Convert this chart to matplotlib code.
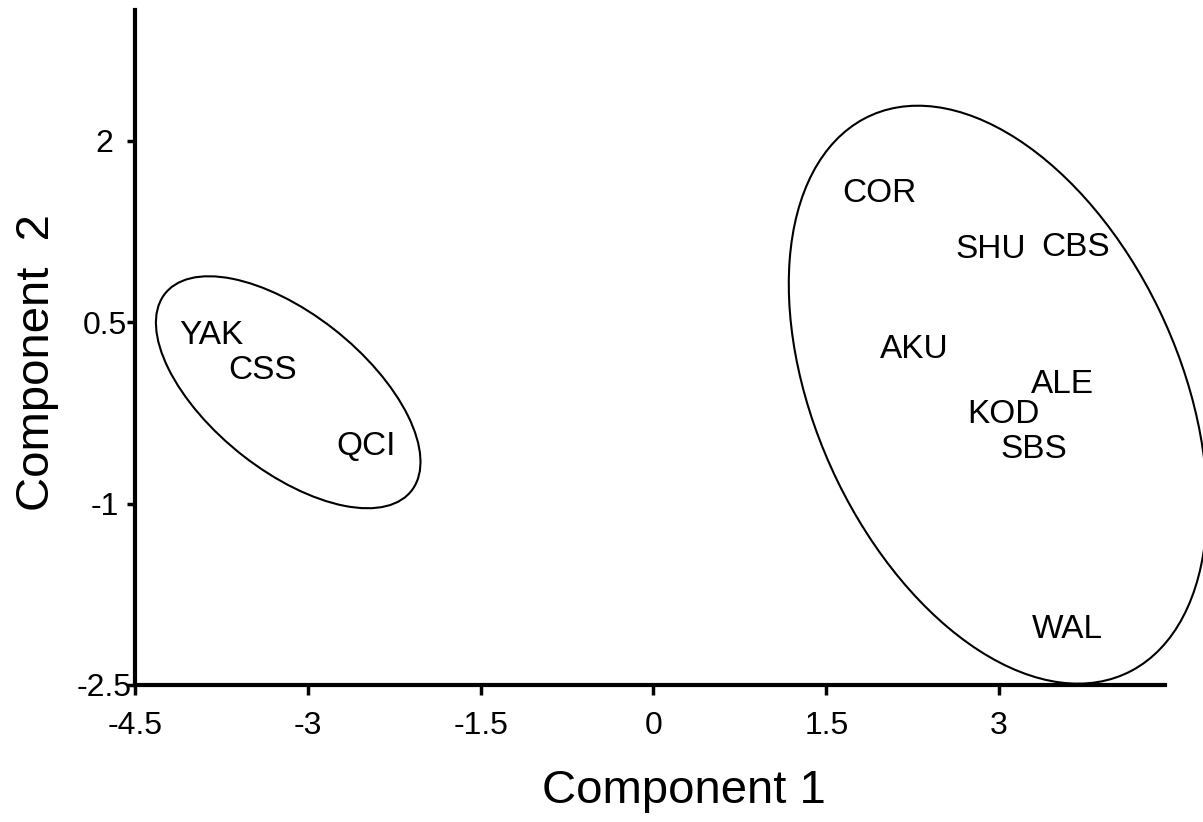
import matplotlib
matplotlib.use("Agg")
import matplotlib.pyplot as plt
from matplotlib.patches import Ellipse

plt.rcParams['font.family'] = ['Liberation Sans', 'DejaVu Sans']

# population labels and their scores on the two components
pops = ['YAK', 'CSS', 'QCI', 'COR', 'SHU', 'CBS', 'AKU', 'ALE', 'KOD', 'SBS', 'WAL']
comp1 = [-3.84, -3.39, -2.49, 1.96, 2.93, 3.66, 2.26, 3.55, 3.04, 3.30, 3.59]
comp2 = [0.39, 0.10, -0.53, 1.56, 1.10, 1.12, 0.27, -0.02, -0.26, -0.55, -2.04]

# grouping ellipses: centre x, centre y, width, height, angle
groups = [
    (-3.17, -0.08, 2.69, 1.31, -36.6),
    (2.99, -0.10, 5.12, 3.13, -63.0),
]

xticks = [-4.5, -3, -1.5, 0, 1.5, 3]
yticks = [-2.5, -1, 0.5, 2]

fig = plt.figure(figsize=(12.03, 8.22), dpi=100)
ax = fig.add_axes([0.1122, 0.1667, 0.8562, 0.8211])

for name, x, y in zip(pops, comp1, comp2):
    ax.text(x, y, name, fontsize=24, ha='center', va='center')

for cx, cy, w, h, ang in groups:
    ax.add_patch(Ellipse((cx, cy), w, h, angle=ang, fill=False,
                         edgecolor='black', linewidth=1.5, clip_on=False))

ax.set_xlim(-4.5, 4.44)
ax.set_ylim(-2.5, 3.08)

ax.spines['top'].set_visible(False)
ax.spines['right'].set_visible(False)
ax.spines['left'].set_linewidth(3)
ax.spines['bottom'].set_linewidth(3)

ax.set_xticks(xticks)
ax.set_xticklabels(['-4.5', '-3', '-1.5', '0', '1.5', '3'])
ax.set_yticks(yticks)
ax.set_yticklabels(['-2.5', '-1', '0.5', '2'])
ax.tick_params(axis='x', length=7, width=2.5, labelsize=23, pad=12)
ax.tick_params(axis='y', length=6, width=2.5, labelsize=23, pad=16)
for lab in ax.get_yticklabels():
    lab.set_horizontalalignment('center')

ax.set_xlabel('Component 1', fontsize=34, va='center')
ax.xaxis.set_label_coords(0.533, -0.157)
ax.set_ylabel('Component  2', fontsize=34, va='center')
ax.yaxis.set_label_coords(-0.095, 0.477)

plt.savefig('out.png')
